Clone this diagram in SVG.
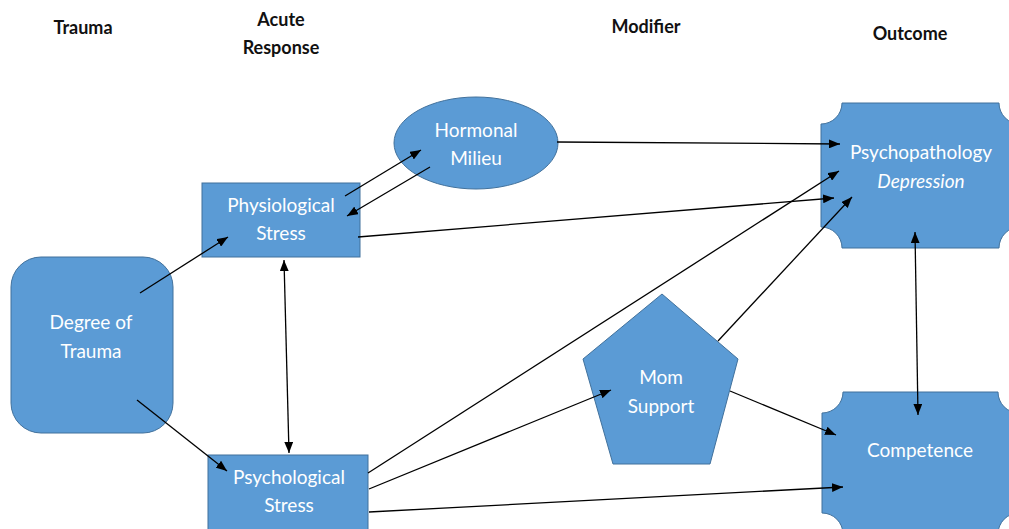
<svg xmlns="http://www.w3.org/2000/svg" width="1009" height="529" viewBox="0 0 1009 529">
<style>
.hdr{font-family:Lato,"Liberation Sans",sans-serif;font-weight:bold;font-size:18px;fill:#111;text-anchor:middle}
.shape{fill:#5B9BD5;stroke:#41719C;stroke-width:1}
.lbl{font-family:Lato,"Liberation Sans",sans-serif;font-size:19px;fill:#fff;text-anchor:middle}
.conn line{stroke:#000;stroke-width:1.3}
</style>
<defs>
<marker id="ah" viewBox="0 0 10 8" refX="10" refY="4" markerWidth="11" markerHeight="9" markerUnits="userSpaceOnUse" orient="auto-start-reverse">
<path d="M0,0 L10,4 L0,8 Z" fill="#000"/>
</marker>
</defs>
<rect width="1009" height="529" fill="#fff"/>
<g id="headers">
<text class="hdr" x="83" y="34">Trauma</text>
<text class="hdr" x="281" y="26">Acute</text>
<text class="hdr" x="281" y="54">Response</text>
<text class="hdr" x="646" y="33">Modifier</text>
<text class="hdr" x="910" y="40">Outcome</text>
</g>
<g id="degree">
<rect class="shape" x="11" y="257" width="162" height="176" rx="30"/>
<text class="lbl" x="91" y="329">Degree of</text>
<text class="lbl" x="91" y="358">Trauma</text>
</g>
<g id="physio">
<rect class="shape" x="202" y="183" width="158" height="74"/>
<text class="lbl" x="281" y="212">Physiological</text>
<text class="lbl" x="281" y="240">Stress</text>
</g>
<g id="hormonal">
<ellipse class="shape" cx="476" cy="143" rx="82" ry="46"/>
<text class="lbl" x="476" y="137">Hormonal</text>
<text class="lbl" x="476" y="165">Milieu</text>
</g>
<g id="psych">
<rect class="shape" x="208" y="455" width="160" height="80"/>
<text class="lbl" x="289" y="484">Psychological</text>
<text class="lbl" x="289" y="512">Stress</text>
</g>
<g id="mom">
<polygon class="shape" points="662,294 738,359 710,464 613,464 583,359"/>
<text class="lbl" x="661" y="384">Mom</text>
<text class="lbl" x="661" y="413">Support</text>
</g>
<g id="psychopathology">
<path class="shape" d="M842,103 H999 A21,21 0 0 0 1020,124 V227 A21,21 0 0 0 999,248 H842 A21,21 0 0 0 821,227 V124 A21,21 0 0 0 842,103 Z"/>
<text class="lbl" x="921" y="159">Psychopathology</text>
<text class="lbl" x="921" y="188" font-style="italic">Depression</text>
</g>
<g id="competence">
<path class="shape" d="M843,392 H998 A21,21 0 0 0 1019,413 V513 A21,21 0 0 0 998,534 H843 A21,21 0 0 0 822,513 V413 A21,21 0 0 0 843,392 Z"/>
<text class="lbl" x="920" y="457">Competence</text>
</g>
<g class="conn" id="connectors">
<line x1="140" y1="293" x2="228" y2="237" marker-end="url(#ah)"/>
<line x1="137" y1="400" x2="227" y2="471" marker-end="url(#ah)"/>
<line x1="345" y1="196" x2="421" y2="150" marker-end="url(#ah)"/>
<line x1="430" y1="167" x2="347" y2="216" marker-end="url(#ah)"/>
<line x1="284" y1="260" x2="289" y2="453" marker-start="url(#ah)" marker-end="url(#ah)"/>
<line x1="557" y1="142" x2="840" y2="144" marker-end="url(#ah)"/>
<line x1="358" y1="237" x2="834" y2="198" marker-end="url(#ah)"/>
<line x1="368" y1="473" x2="839" y2="171" marker-end="url(#ah)"/>
<line x1="369" y1="489" x2="611" y2="390" marker-end="url(#ah)"/>
<line x1="369" y1="512" x2="843" y2="487" marker-end="url(#ah)"/>
<line x1="718" y1="341" x2="852" y2="197" marker-end="url(#ah)"/>
<line x1="730" y1="391" x2="836" y2="435" marker-end="url(#ah)"/>
<line x1="915" y1="232" x2="918" y2="415" marker-start="url(#ah)" marker-end="url(#ah)"/>
</g>
</svg>
